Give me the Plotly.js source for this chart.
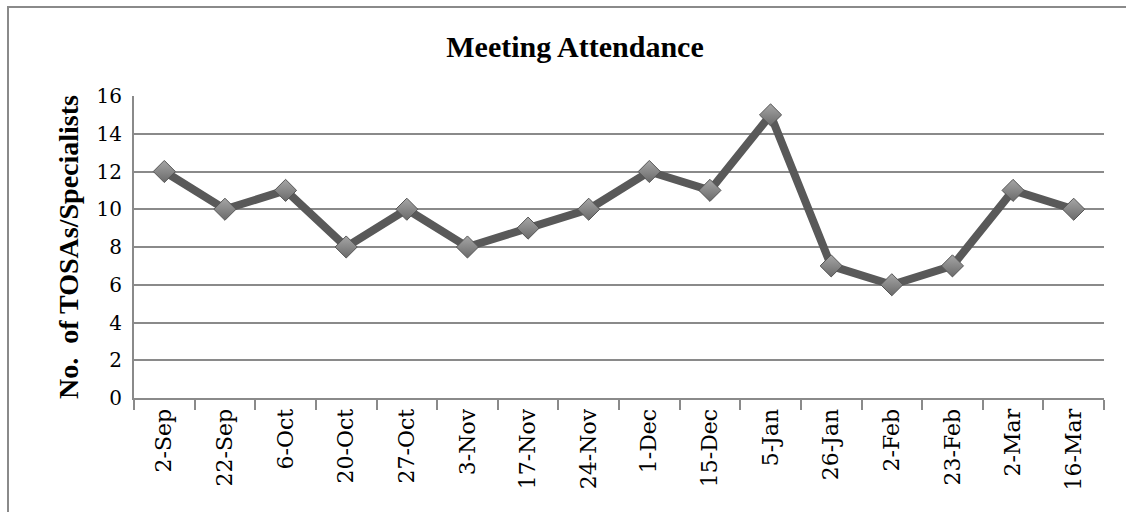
<!DOCTYPE html>
<html>
<head>
<meta charset="utf-8">
<script src="https://cdn.plot.ly/plotly-3.0.1.min.js"></script>
<style>
  html, body { margin: 0; padding: 0; background: #fff; overflow: hidden; }
  #frame { position: absolute; left: 7px; top: 6px; width: 1140px; height: 540px; border: 2px solid #8a8a8a; box-sizing: border-box; pointer-events: none; }
  #chart { position: absolute; left: 0; top: 0; width: 1126px; height: 512px; }
</style>
</head>
<body>
<div id="chart"></div>
<div id="frame"></div>
<script>
const categories = ["2-Sep","22-Sep","6-Oct","20-Oct","27-Oct","3-Nov","17-Nov","24-Nov","1-Dec","15-Dec","5-Jan","26-Jan","2-Feb","23-Feb","2-Mar","16-Mar"];
const attendance = [12,10,11,8,10,8,9,10,12,11,15,7,6,7,11,10];
const yTicks = [0,2,4,6,8,10,12,14,16];

const serif = "DejaVu Serif, serif";
const boldSerif = "Liberation Serif, Times New Roman, serif";

const trace = {
  type: "scatter",
  mode: "lines+markers",
  x: categories,
  y: attendance,
  line: { color: "#595959", width: 8 },
  marker: {
    symbol: "diamond",
    size: 17,
    color: "#a6a6a6",
    gradient: { type: "vertical", color: "#6a6a6a" },
    line: { color: "#555555", width: 1 }
  },
  hoverinfo: "x+y"
};

const layout = {
  width: 1126,
  height: 512,
  margin: { l: 134, r: 22, t: 96, b: 114 },
  paper_bgcolor: "#ffffff",
  plot_bgcolor: "#ffffff",
  showlegend: false,
  title: {
    text: "<b>Meeting Attendance</b>",
    font: { family: boldSerif, size: 30, color: "#000" },
    x: 575 / 1126, xanchor: "center",
    yref: "container", y: 1 - 46/512, yanchor: "middle"
  },
  xaxis: {
    type: "category",
    tickangle: -90,
    ticks: "outside",
    tickson: "boundaries",
    ticklen: 10,
    tickcolor: "#8a8a8a",
    tickwidth: 2,
    showline: true,
    linecolor: "#8a8a8a",
    linewidth: 2,
    showgrid: false,
    tickfont: { family: serif, size: 22, color: "#000" },
    range: [-0.5, categories.length - 0.5]
  },
  yaxis: {
    range: [0, 16],
    tickvals: yTicks,
    ticktext: yTicks.map(String),
    showline: true,
    linecolor: "#8a8a8a",
    linewidth: 2,
    showgrid: true,
    gridcolor: "#8a8a8a",
    gridwidth: 2,
    zeroline: false,
    ticks: "",
    ticklabelstandoff: 6,
    tickfont: { family: serif, size: 20, color: "#000" },
    title: {
      text: "<b>No.  of TOSAs/Specialists</b>",
      font: { family: boldSerif, size: 28, color: "#000" },
      standoff: 10
    }
  }
};

Plotly.newPlot("chart", [trace], layout, { displayModeBar: false, staticPlot: true });
</script>
</body>
</html>
